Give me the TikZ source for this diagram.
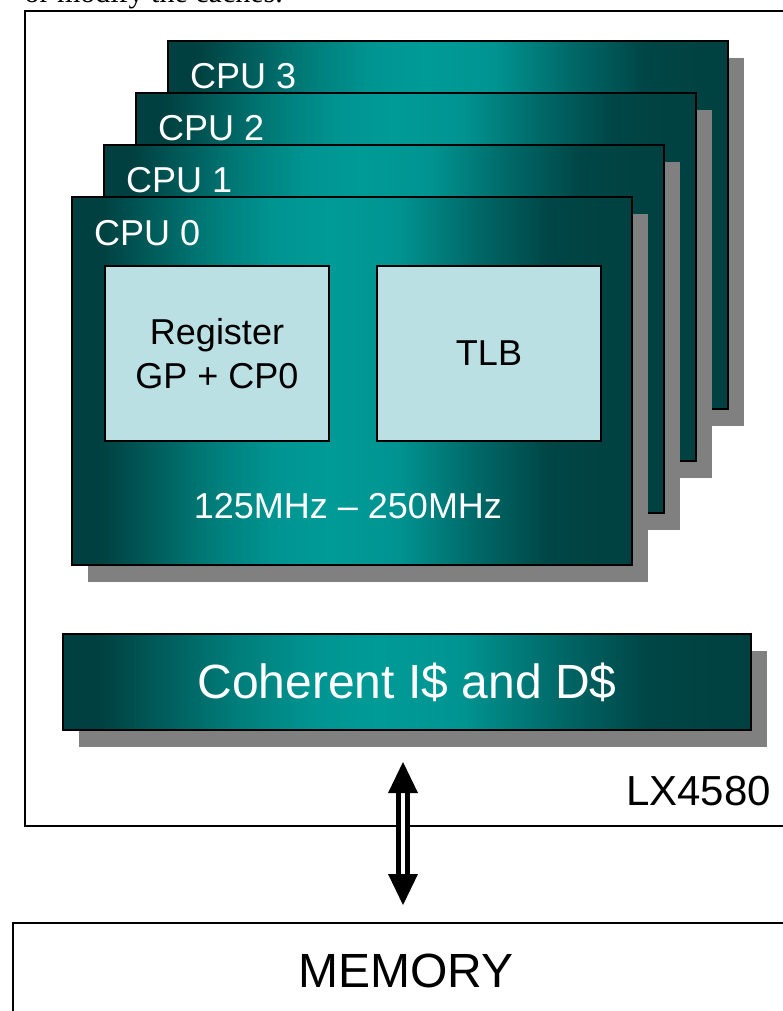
\documentclass[tikz,border=0pt]{standalone}
\usepackage{fontspec}
\setmainfont{Liberation Sans}
\newfontfamily\notefont{Liberation Serif}
\usetikzlibrary{calc,shadows}

\definecolor{tealdark}{RGB}{0,64,64}
\definecolor{tealdeep}{RGB}{0,70,70}
\definecolor{tealmid}{RGB}{0,105,104}
\definecolor{tealrise}{RGB}{0,125,122}
\definecolor{tealhigh}{RGB}{0,148,145}
\definecolor{tealbright}{RGB}{0,155,151}
\definecolor{regfill}{RGB}{187,224,227}
\definecolor{shadowgray}{RGB}{128,128,128}

% horizontal band: dark at the edges, bright just left of centre
\pgfdeclarehorizontalshading{tealband}{100bp}{
  color(0bp)=(tealdark); color(25bp)=(tealdark); color(27.5bp)=(tealdark);
  color(37.5bp)=(tealrise); color(43bp)=(tealhigh); color(48bp)=(tealbright);
  color(54bp)=(tealhigh); color(61bp)=(tealmid); color(67.5bp)=(tealdeep);
  color(75bp)=(tealdark); color(100bp)=(tealdark)}

\tikzset{
  x=1pt, y=-1pt,
  tealshade/.style={shade, shading=tealband},
  greyshadow/.style={drop shadow={shadow xshift=16pt, shadow yshift=-17pt,
      fill=shadowgray, opacity=1}},
  cpubox/.style={draw=black, line width=2pt, tealshade, greyshadow,
      minimum width=560pt, minimum height=368pt, inner sep=0pt, outer sep=0pt,
      anchor=north west},
  cpulabel/.style={text=white, inner sep=0pt, anchor=base west,
      font=\fontsize{36}{44}\selectfont},
  unitbox/.style={draw=black, line width=2pt, fill=regfill, text=black,
      minimum width=224pt, minimum height=175pt, inner sep=0pt, anchor=north west,
      align=center, font=\fontsize{36}{44}\selectfont},
  cachebox/.style={draw=black, line width=2pt, tealshade, greyshadow, text=white,
      minimum width=688pt, minimum height=96pt, inner sep=0pt, anchor=north west,
      font=\fontsize{48}{56}\selectfont},
  plainbox/.style={draw=black, line width=2pt, fill=white, inner sep=0pt,
      anchor=north west},
  busline/.style={draw=black, line width=5pt, double=white, double distance=4pt},
  bustip/.style={fill=black},
}

\begin{document}
\begin{tikzpicture}
\useasboundingbox (0,0) rectangle (783,1011);
\clip (0,0) rectangle (783,1011);

% last line of the preceding paragraph
\node[anchor=base east, inner sep=0pt, font=\notefont\fontsize{30}{36}\selectfont]
  (note) at (283,3) {or modify the caches.};

% chip outline
\node[plainbox, minimum width=776pt, minimum height=815pt] (chip) at (24,10) {};
\node[anchor=base east, inner sep=0pt, font=\fontsize{42}{50}\selectfont]
  (chiplab) at (771,805) {LX4580};

% stacked processor cores, back to front
\node[cpubox] (cpu3) at (168,41) {};
\node[cpulabel] (lab3) at ($(cpu3.north west)+(22,48)$) {CPU 3};
\node[cpubox] (cpu2) at (136,93) {};
\node[cpulabel] (lab2) at ($(cpu2.north west)+(22,48)$) {CPU 2};
\node[cpubox] (cpu1) at (104,145) {};
\node[cpulabel] (lab1) at ($(cpu1.north west)+(22,48)$) {CPU 1};
\node[cpubox] (cpu0) at (72,197) {};
\node[cpulabel] (lab0) at ($(cpu0.north west)+(22,48)$) {CPU 0};

% units inside CPU 0
\node[unitbox] (reg) at (104,265) {Register\\GP + CP0};
\node[unitbox] (tlb) at (376,265) {TLB};
\node[cpulabel, anchor=base] (freq) at ($(cpu0.south)+(-4,-47)$)
  {125MHz -- 250MHz};

% shared cache
\node[cachebox] (coh) at (62,633) {Coherent I\$ and D\$};

% memory
\node[plainbox, minimum width=786pt, minimum height=96pt,
      font=\fontsize{48}{56}\selectfont] (mem) at (12,922) {MEMORY};

% bidirectional bus between chip and memory
\coordinate (busTop) at (403,762);
\coordinate (busBot) at (403,905);
\draw[busline, shorten <=30pt, shorten >=30pt] (busTop) -- (busBot);
\fill[bustip] (busTop) -- ++(-15,31) -- ++(30,0) -- cycle;
\fill[bustip] (busBot) -- ++(-15,-31) -- ++(30,0) -- cycle;
\end{tikzpicture}
\end{document}
